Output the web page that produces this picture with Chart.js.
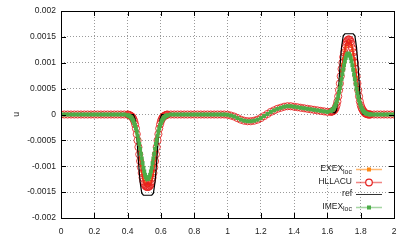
<!DOCTYPE html>
<html>
<head>
<meta charset="utf-8">
<title>u profiles</title>
<script src="https://cdn.jsdelivr.net/npm/chart.js@4.4.1/dist/chart.umd.min.js"></script>
<style>
  body { margin: 0; background: #fff; }
  canvas { display: block; }
</style>
</head>
<body>
<canvas id="chart" width="407" height="244"></canvas>
<script>
// x positions (dense around the two pulses)
const xLeft = [0,0.02,0.04,0.06,0.08,0.1,0.12,0.14,0.16,0.18,0.2,0.22,0.24,0.26,0.28,0.3,0.32,0.34,0.36,0.38];
const xNeg = [0.4,0.405,0.41,0.415,0.42,0.425,0.43,0.435,0.44,0.445,0.45,0.455,0.46,0.465,0.47,0.475,0.48,0.485,0.49,0.495,
  0.5,0.505,0.51,0.515,0.52,0.525,0.53,0.535,0.54,0.545,0.55,0.555,0.56,0.565,0.57,0.575,0.58,0.585,0.59,0.595,
  0.6,0.605,0.61,0.615,0.62,0.625,0.63,0.635,0.64];
const xMid = [0.66,0.68,0.7,0.72,0.74,0.76,0.78,0.8,0.82,0.84,0.86,0.88,0.9,0.92,0.94,0.96,0.98,
  1,1.02,1.04,1.06,1.08,1.1,1.12,1.14,1.16,1.18,1.2,1.22,1.24,1.26,1.28,1.3,1.32,1.34,1.36,1.38,
  1.4,1.42,1.44,1.46,1.48,1.5,1.52,1.54,1.56,1.58,1.6];
const xPos = [1.62,1.625,1.63,1.635,1.64,1.645,1.65,1.655,1.66,1.665,1.67,1.675,1.68,1.685,1.69,1.695,1.7,1.705,1.71,1.715,
  1.72,1.725,1.73,1.735,1.74,1.745,1.75,1.755,1.76,1.765,1.77,1.775,1.78,1.785,1.79,1.795,1.8,1.805,1.81,1.815,
  1.82,1.825,1.83,1.835,1.84,1.845,1.85,1.855,1.86];
const xRight = [1.88,1.9,1.92,1.94,1.96,1.98,2];

// values shared by the schemes away from the pulses
const uLeft = [0,0,0,0,0,0,0,0,0,0,0,0,0,0,0,0,0,0,0,0];
const uMid = [0,0,0,0,0,0,0,0,0,0,0,0,0,0,0,0,0,
  -0.000005,-0.00002,-0.00004,-0.00007,-0.0001,-0.00012,-0.00013,-0.00013,-0.00012,-0.0001,-0.00007,-0.00003,
  0.00001,0.00005,0.00008,0.00011,0.00013,0.00015,0.00016,0.00016,0.00015,0.00014,0.00013,0.00012,0.00011,
  0.0001,0.00009,0.00008,0.00007,0.00006,0.00005];
const uRight = [0,0,0,0,0,0,0];

// EXEX_loc
const exexNeg = [0,-0.000005,-0.00001,-0.00002,-0.00003,-0.00004,-0.00006,-0.00009,-0.00013,-0.00019,-0.00026,-0.00037,
  -0.00048,-0.00061,-0.00075,-0.00087,-0.00099,-0.0011,-0.00118,-0.00125,-0.0013,-0.00133,-0.00135,-0.00136,-0.00136,
  -0.00136,-0.00135,-0.00133,-0.0013,-0.00125,-0.00118,-0.0011,-0.00099,-0.00087,-0.00075,-0.00061,-0.00048,-0.00037,
  -0.00026,-0.00019,-0.00013,-0.00009,-0.00006,-0.00004,-0.00003,-0.00002,-0.00001,-0.000005,0];
const exexPos = [0.00005,0.000055,0.00006,0.00007,0.00008,0.0001,0.00013,0.00018,0.00025,0.00034,0.00046,0.00058,
  0.00072,0.00085,0.00097,0.00108,0.00117,0.00124,0.0013,0.00135,0.00139,0.00141,0.00141,0.0014,0.00137,0.00132,
  0.00125,0.00117,0.00108,0.00097,0.00086,0.00072,0.00059,0.00046,0.00034,0.00025,0.00018,0.00013,0.0001,0.00007,
  0.00005,0.00003,0.00002,0.00001,0.000005,0,0,0,0];

// HLLACU
const hllNeg = [0,-0.000005,-0.00001,-0.00002,-0.00003,-0.00004,-0.00006,-0.00009,-0.00013,-0.00019,-0.00027,-0.00038,
  -0.0005,-0.00063,-0.00077,-0.0009,-0.00102,-0.00113,-0.00122,-0.00129,-0.00134,-0.00137,-0.00139,-0.0014,-0.0014,
  -0.0014,-0.00139,-0.00137,-0.00134,-0.00129,-0.00122,-0.00113,-0.00102,-0.0009,-0.00077,-0.00063,-0.0005,-0.00038,
  -0.00027,-0.00019,-0.00013,-0.00009,-0.00006,-0.00004,-0.00003,-0.00002,-0.00001,-0.000005,0];
const hllPos = [0.00005,0.000055,0.00006,0.00007,0.00008,0.0001,0.00013,0.00018,0.00025,0.00035,0.00047,0.0006,
  0.00074,0.00088,0.001,0.00111,0.0012,0.00128,0.00135,0.0014,0.00143,0.00145,0.00145,0.00144,0.00141,0.00136,
  0.00128,0.0012,0.00111,0.001,0.00088,0.00074,0.0006,0.00047,0.00035,0.00025,0.00018,0.00013,0.0001,0.00007,
  0.00005,0.00003,0.00002,0.00001,0.000005,0,0,0,0];

// IMEX_loc
const imexNeg = [-0.000014,-0.00002,-0.000028,-0.00004,-0.000055,-0.000075,-0.0001,-0.00013,-0.00017,-0.000215,-0.00027,
  -0.00033,-0.00041,-0.00049,-0.00057,-0.00066,-0.00076,-0.00085,-0.00094,-0.00103,-0.0011,-0.001165,-0.00121,-0.00124,
  -0.00125,-0.00124,-0.00121,-0.001165,-0.0011,-0.00103,-0.00094,-0.00085,-0.00076,-0.00066,-0.00057,-0.00049,-0.00041,
  -0.00033,-0.00027,-0.000215,-0.00017,-0.00013,-0.0001,-0.000075,-0.000055,-0.00004,-0.000028,-0.00002,-0.000014];
const imexPos = [0.000066,0.000077,0.000087,0.000104,0.000127,0.000157,0.000194,0.000238,0.000294,0.000357,0.000429,
  0.000509,0.000595,0.000687,0.000778,0.000868,0.000952,0.001028,0.001092,0.00114,0.001169,0.00118,0.001169,0.00114,
  0.001092,0.001028,0.00095,0.000864,0.000772,0.000679,0.000585,0.000497,0.000414,0.00034,0.000274,0.000216,0.000169,
  0.000129,0.000097,0.000071,0.000052,0.000037,0.000026,0.000018,0.000012,0.000008,0.000005,0.000003,0.000002];

// reference solution
const refX = [0,0.435,0.445,0.455,0.465,0.475,0.485,0.495,0.545,0.555,0.565,0.575,0.585,0.595,0.605,0.98,
  1,1.02,1.04,1.06,1.08,1.1,1.12,1.14,1.16,1.18,1.2,1.22,1.24,1.26,1.28,1.3,1.32,1.34,1.36,1.38,
  1.4,1.42,1.44,1.46,1.48,1.5,1.52,1.54,1.56,1.58,1.6,
  1.645,1.655,1.665,1.675,1.685,1.695,1.705,1.755,1.765,1.775,1.785,1.795,1.805,1.815,2];
const refY = [0,0,-0.00008,-0.0004,-0.0009,-0.0013,-0.00152,-0.00156,-0.00156,-0.00152,-0.0013,-0.0009,-0.0004,-0.00008,0,0,
  -0.000005,-0.00002,-0.00004,-0.00007,-0.0001,-0.00012,-0.00013,-0.00013,-0.00012,-0.0001,-0.00007,-0.00003,
  0.00001,0.00005,0.00008,0.00011,0.00013,0.00015,0.00016,0.00016,0.00015,0.00014,0.00013,0.00012,0.00011,
  0.0001,0.00009,0.00008,0.00007,0.00006,0.00005,
  0.00003,0.00008,0.0004,0.0009,0.0013,0.00152,0.00156,0.00156,0.00152,0.0013,0.0009,0.0004,0.00008,0,0];

const xTicks = [0,0.2,0.4,0.6,0.8,1,1.2,1.4,1.6,1.8,2];
const yTicks = [-0.002,-0.0015,-0.001,-0.0005,0,0.0005,0.001,0.0015,0.002];
const keyNames = [['EXEX','loc'],['HLLACU',''],['ref',''],['IMEX','loc']];

const xs = [].concat(xLeft, xNeg, xMid, xPos, xRight);
function series(neg, pos) {
  const ys = [].concat(uLeft, neg, uMid, pos, uRight);
  return xs.map((x, i) => ({x: x, y: ys[i]}));
}

const FONT = '"Liberation Sans", Arial, sans-serif';
const ORANGE = '#ff8a14', RED = 'rgba(230,32,30,0.85)', GREEN = '#4dad48';

// frame, inward ticks, axis title and key, drawn on top like gnuplot
const decor = {
  id: 'decor',
  afterDraw(chart) {
    const ctx = chart.ctx, a = chart.chartArea, sx = chart.scales.x, sy = chart.scales.y;
    ctx.save();
    ctx.strokeStyle = '#000';
    ctx.lineWidth = 1;
    ctx.beginPath();
    xTicks.forEach(v => {
      const p = Math.round(sx.getPixelForValue(v)) + 0.5;
      ctx.moveTo(p, a.bottom); ctx.lineTo(p, a.bottom - 5);
      ctx.moveTo(p, a.top); ctx.lineTo(p, a.top + 5);
    });
    yTicks.forEach(v => {
      const p = Math.round(sy.getPixelForValue(v)) + 0.5;
      ctx.moveTo(a.left, p); ctx.lineTo(a.left + 5, p);
      ctx.moveTo(a.right, p); ctx.lineTo(a.right - 5, p);
    });
    ctx.stroke();
    ctx.strokeRect(Math.round(a.left) + 0.5, Math.round(a.top) + 0.5,
      Math.round(a.right - a.left), Math.round(a.bottom - a.top));

    // y axis title
    ctx.fillStyle = '#222';
    ctx.font = '8.5px ' + FONT;
    ctx.textAlign = 'center';
    ctx.textBaseline = 'middle';
    ctx.save();
    ctx.translate(17, (a.top + a.bottom) / 2);
    ctx.rotate(-Math.PI / 2);
    ctx.fillText('u', 0, 0);
    ctx.restore();

    // key
    const textRight = a.right - 42, l0 = a.right - 38, l1 = a.right - 12, mx = (l0 + l1) / 2;
    const lineCols = ['rgba(255,138,20,0.6)', 'rgba(230,32,30,0.55)', '#333', 'rgba(77,173,72,0.5)'];
    keyNames.forEach((nm, i) => {
      const yy = a.bottom - 49 + i * 12.5;
      ctx.font = '7px ' + FONT;
      const w2 = nm[1] ? ctx.measureText(nm[1]).width : 0;
      ctx.font = '8.5px ' + FONT;
      const w1 = ctx.measureText(nm[0]).width;
      ctx.textAlign = 'left';
      ctx.fillStyle = '#222';
      ctx.fillText(nm[0], textRight - w1 - w2, yy);
      if (nm[1]) {
        ctx.font = '7px ' + FONT;
        ctx.fillText(nm[1], textRight - w2, yy + 3);
      }
      ctx.strokeStyle = lineCols[i];
      ctx.lineWidth = i === 2 ? 1 : 1.5;
      ctx.beginPath();
      ctx.moveTo(l0, Math.round(yy) + 0.5); ctx.lineTo(l1, Math.round(yy) + 0.5);
      ctx.stroke();
      if (i === 0 || i === 3) {
        ctx.fillStyle = i === 0 ? ORANGE : GREEN;
        ctx.fillRect(mx - 2, Math.round(yy) - 1.5, 4, 4);
      } else if (i === 1) {
        ctx.beginPath();
        ctx.arc(mx, Math.round(yy) + 0.5, 3.3, 0, Math.PI * 2);
        ctx.fillStyle = '#fff';
        ctx.fill();
        ctx.strokeStyle = '#e4201e';
        ctx.lineWidth = 1.2;
        ctx.stroke();
      }
    });
    ctx.restore();
  }
};

const tickFont = {family: FONT, size: 8.5};

new Chart(document.getElementById('chart'), {
  type: 'line',
  data: {
    datasets: [
      {label: 'EXEX_loc', data: series(exexNeg, exexPos), order: 3,
       borderColor: ORANGE, borderWidth: 1.2, pointStyle: 'rect', pointRadius: 2,
       pointBackgroundColor: ORANGE, pointBorderWidth: 0},
      {label: 'HLLACU', data: series(hllNeg, hllPos), order: 2,
       borderColor: RED, borderWidth: 1.5, pointStyle: 'circle', pointRadius: 3.6,
       pointBorderColor: RED, pointBorderWidth: 1, pointBackgroundColor: 'rgba(255,255,255,0)'},
      {label: 'ref', data: refX.map((x, i) => ({x: x, y: refY[i]})), order: 1,
       borderColor: '#000', borderWidth: 1.2, pointRadius: 0},
      {label: 'IMEX_loc', data: series(imexNeg, imexPos), order: 0,
       borderColor: GREEN, borderWidth: 2, pointStyle: 'rect', pointRadius: 2.8,
       pointBackgroundColor: GREEN, pointBorderWidth: 0}
    ]
  },
  options: {
    responsive: false,
    animation: false,
    devicePixelRatio: 1,
    layout: {padding: {top: 11, right: 13, left: 0, bottom: 0}},
    plugins: {legend: {display: false}, tooltip: {enabled: false}},
    scales: {
      x: {
        type: 'linear', min: 0, max: 2,
        afterFit: s => { s.height = 26; },
        afterBuildTicks: s => { s.ticks = xTicks.map(v => ({value: v})); },
        grid: {color: '#9a9a9a', drawTicks: false},
        border: {display: false, dash: [1, 2]},
        ticks: {padding: 9, color: '#222', font: tickFont, maxRotation: 0, autoSkip: false,
                callback: v => String(+v.toFixed(1))}
      },
      y: {
        type: 'linear', min: -0.002, max: 0.002,
        afterFit: s => { s.width = 61; },
        afterBuildTicks: s => { s.ticks = yTicks.map(v => ({value: v})); },
        grid: {color: '#9a9a9a', drawTicks: false},
        border: {display: false, dash: [1, 2]},
        ticks: {padding: 5, color: '#222', font: tickFont, autoSkip: false,
                callback: v => String(+v.toFixed(4))}
      }
    }
  },
  plugins: [decor]
});
</script>
</body>
</html>
